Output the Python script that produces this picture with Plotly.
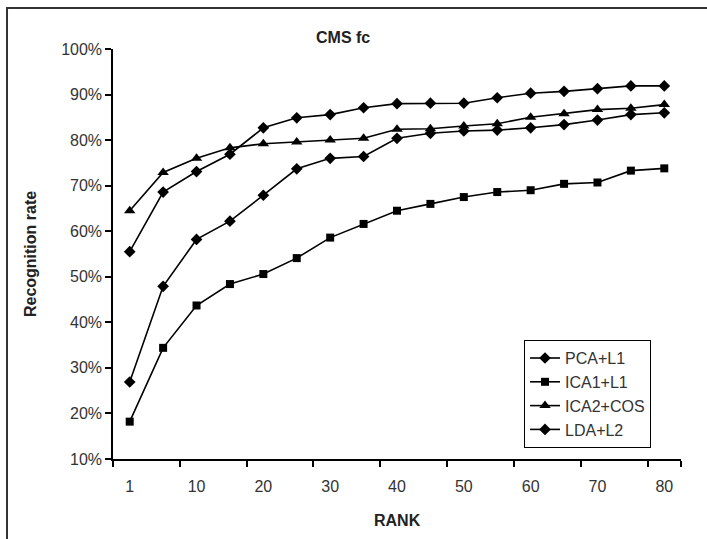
import plotly.graph_objects as go

# Rank positions (categories) and the labels shown on the x axis
ranks = ["1", "5", "10", "15", "20", "25", "30", "35", "40",
         "45", "50", "55", "60", "65", "70", "75", "80"]
rank_labels = ["1", "10", "20", "30", "40", "50", "60", "70", "80"]

# Cumulative recognition rate (%) for each method
pca_l1 = [26.9, 47.9, 58.2, 62.2, 67.9, 73.7, 76.0, 76.4, 80.4,
          81.5, 82.0, 82.2, 82.7, 83.4, 84.4, 85.6, 86.0]
ica1_l1 = [18.2, 34.4, 43.7, 48.4, 50.6, 54.1, 58.6, 61.6, 64.5,
           66.0, 67.5, 68.6, 69.0, 70.4, 70.7, 73.3, 73.8]
ica2_cos = [64.5, 72.9, 76.0, 78.3, 79.2, 79.6, 80.0, 80.4, 82.4,
            82.5, 83.1, 83.6, 85.0, 85.8, 86.7, 87.0, 87.8]
lda_l2 = [55.5, 68.6, 73.1, 76.9, 82.7, 84.9, 85.6, 87.1, 88.0,
          88.1, 88.1, 89.3, 90.3, 90.7, 91.3, 91.9, 91.9]

series = [
    ("PCA+L1", pca_l1, "diamond", 9),
    ("ICA1+L1", ica1_l1, "square", 8),
    ("ICA2+COS", ica2_cos, "triangle-up", 10),
    ("LDA+L2", lda_l2, "diamond", 9),
]

FONT = "Liberation Sans, Arial, sans-serif"

fig = go.Figure()
for name, vals, sym, size in series:
    fig.add_trace(go.Scatter(
        x=ranks,
        y=[v / 100 for v in vals],
        name=name,
        mode="lines+markers",
        line=dict(color="black", width=1.6),
        marker=dict(symbol=sym, size=size, color="black"),
    ))

fig.update_layout(
    width=707,
    height=539,
    margin=dict(l=113, r=26, t=49, b=80),
    paper_bgcolor="white",
    plot_bgcolor="white",
    font=dict(family=FONT, size=16, color="#222222"),
    showlegend=True,
    legend=dict(
        x=0.7236, y=0.290, xanchor="left", yanchor="top",
        bgcolor="white", bordercolor="black", borderwidth=1,
        font=dict(family=FONT, size=16, color="#333333"),
        itemwidth=30,
        tracegroupgap=0,
    ),
    xaxis=dict(
        type="category",
        range=[-0.5, len(ranks) - 0.5],
        tickmode="array",
        tickvals=ranks[::2],
        ticktext=rank_labels,
        tickson="boundaries",
        ticks="outside",
        ticklen=6,
        tickwidth=1.5,
        tickcolor="black",
        ticklabelstandoff=12,
        showline=True,
        linecolor="black",
        linewidth=1.5,
        showgrid=False,
        zeroline=False,
        tickfont=dict(size=16, color="#333333"),
    ),
    yaxis=dict(
        range=[0.10, 1.00],
        tickmode="linear",
        tick0=0.10,
        dtick=0.10,
        tickformat=".0%",
        ticks="outside",
        ticklen=6,
        tickwidth=1.5,
        tickcolor="black",
        showline=True,
        linecolor="black",
        linewidth=1.5,
        showgrid=False,
        zeroline=False,
        tickfont=dict(size=16, color="#333333"),
    ),
    annotations=[
        dict(text="<b>CMS fc</b>", x=0.405, y=1.029, xref="paper", yref="paper",
             xanchor="center", yanchor="middle", showarrow=False,
             font=dict(size=16, color="#222222")),
        dict(text="<b>RANK</b>", x=0.5, y=-0.149, xref="paper", yref="paper",
             xanchor="center", yanchor="middle", showarrow=False,
             font=dict(size=16, color="#222222")),
        dict(text="<b>Recognition rate</b>", x=-0.146, y=0.5, xref="paper", yref="paper",
             xanchor="center", yanchor="middle", showarrow=False, textangle=-90,
             font=dict(size=16, color="#222222")),
    ],
    shapes=[
        # outer chart frame (runs off the right and bottom edges)
        dict(type="rect", xref="paper", yref="paper",
             x0=-0.1866, x1=2.0, y0=-1.0, y1=1.1,
             line=dict(color="#333333", width=2), fillcolor="rgba(0,0,0,0)",
             layer="below"),
    ],
)

fig.write_html("out.html")
